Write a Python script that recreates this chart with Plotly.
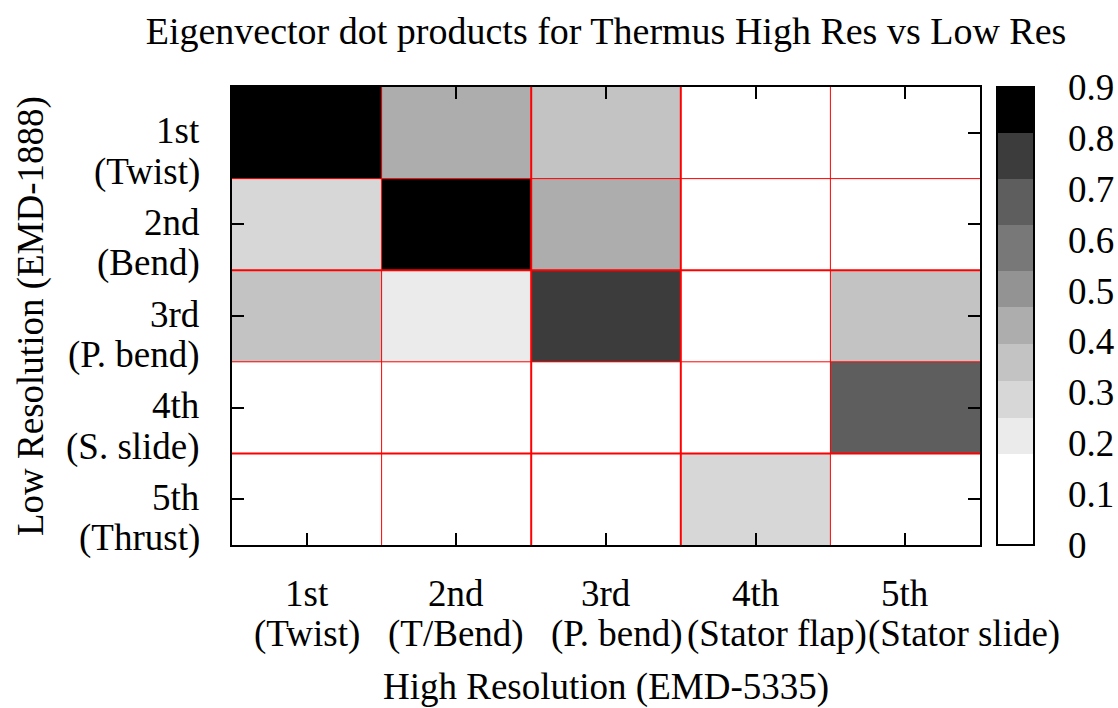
import plotly.graph_objects as go

# Mode labels (ordinal + description) for each resolution
LOW_RES_ORDINALS = ["1st", "2nd", "3rd", "4th", "5th"]
LOW_RES_NAMES = ["(Twist)", "(Bend)", "(P. bend)", "(S. slide)", "(Thrust)"]
HIGH_RES_ORDINALS = ["1st", "2nd", "3rd", "4th", "5th"]
HIGH_RES_NAMES = ["(Twist)", "(T/Bend)", "(P. bend)", "(Stator flap)", "(Stator slide)"]

# |dot product| between low-res (rows) and high-res (columns) eigenvectors
DOT_ROW_1 = [0.86, 0.43, 0.36, 0.05, 0.04]
DOT_ROW_2 = [0.29, 0.88, 0.43, 0.04, 0.06]
DOT_ROW_3 = [0.36, 0.21, 0.76, 0.08, 0.35]
DOT_ROW_4 = [0.02, 0.07, 0.10, 0.03, 0.67]
DOT_ROW_5 = [0.05, 0.03, 0.09, 0.28, 0.11]

# Stepped grey palette: band edges and colours
CB_MAX = 0.9
BAND_EDGES = [0.0, 0.178, 0.25, 0.322, 0.394, 0.467, 0.539, 0.629, 0.719, 0.809, 0.9]
BAND_GREYS = ["#ffffff", "#ebebeb", "#d7d7d7", "#c3c3c3", "#adadad",
              "#939393", "#787878", "#5e5e5e", "#3c3c3c", "#000000"]
CB_TICKS = [0.0, 0.1, 0.2, 0.3, 0.4, 0.5, 0.6, 0.7, 0.8, 0.9]
CB_TICKTEXT = ["0", "0.1", "0.2", "0.3", "0.4", "0.5", "0.6", "0.7", "0.8", "0.9"]

z = [DOT_ROW_1, DOT_ROW_2, DOT_ROW_3, DOT_ROW_4, DOT_ROW_5]
n_cols = len(HIGH_RES_ORDINALS)
n_rows = len(LOW_RES_ORDINALS)

colorscale = []
for i, grey in enumerate(BAND_GREYS):
    colorscale.append([BAND_EDGES[i] / CB_MAX, grey])
    colorscale.append([BAND_EDGES[i + 1] / CB_MAX, grey])

W, H = 1118, 708
L, R, T, B = 232, 138, 87, 163
plot_w = W - L - R
FONT = "Liberation Serif"
FS = 37

# horizontal nudge of the second line of each column label
NAME_XSHIFT = [0, 0, 11, 21, 59]

cb_left_px = 997
cb_thick = 37

fig = go.Figure(
    go.Heatmap(
        z=z,
        x=list(range(n_cols)),
        y=list(range(n_rows)),
        zmin=0, zmax=CB_MAX,
        colorscale=colorscale,
        showscale=True,
        colorbar=dict(
            x=(cb_left_px - L) / plot_w, xanchor="left", xpad=0,
            y=0.5, yanchor="middle", len=1, lenmode="fraction", ypad=0,
            thickness=cb_thick, thicknessmode="pixels",
            outlinecolor="black", outlinewidth=2,
            tickmode="array", tickvals=CB_TICKS, ticktext=CB_TICKTEXT,
            ticks="outside", ticklen=26, tickcolor="rgba(0,0,0,0)",
            tickfont=dict(family=FONT, size=FS, color="black"),
        ),
        hoverongaps=False,
    )
)

axis_common = dict(
    tickmode="array",
    showticklabels=False,
    ticks="inside", ticklen=12, tickwidth=1.5, tickcolor="black",
    showline=True, linecolor="black", linewidth=2, mirror="ticks",
    showgrid=False, zeroline=False,
)
fig.update_xaxes(tickvals=list(range(n_cols)), range=[-0.5, n_cols - 0.5], **axis_common)
fig.update_yaxes(tickvals=list(range(n_rows)), range=[n_rows - 0.5, -0.5], **axis_common)

shapes = []
# red separators between cells
v_widths = [1, 2, 2, 1]
h_widths = [1, 2, 1, 2]
for k in range(n_cols - 1):
    shapes.append(dict(type="line", xref="x", yref="y", layer="above",
                       x0=k + 0.5, x1=k + 0.5, y0=-0.5, y1=n_rows - 0.5,
                       line=dict(color="#ff0000", width=v_widths[k])))
for k in range(n_rows - 1):
    shapes.append(dict(type="line", xref="x", yref="y", layer="above",
                       x0=-0.5, x1=n_cols - 0.5, y0=k + 0.5, y1=k + 0.5,
                       line=dict(color="#ff0000", width=h_widths[k])))
# tick marks on both inner edges of the colour bar
cb_x0 = (cb_left_px - L) / plot_w
cb_x1 = (cb_left_px + cb_thick - L) / plot_w
tick_w = 10 / plot_w
for v in CB_TICKS[1:-1]:
    yv = v / CB_MAX
    shapes.append(dict(type="line", xref="paper", yref="paper", layer="above",
                       x0=cb_x0, x1=cb_x0 + tick_w, y0=yv, y1=yv,
                       line=dict(color="black", width=1.5)))
    shapes.append(dict(type="line", xref="paper", yref="paper", layer="above",
                       x0=cb_x1 - tick_w, x1=cb_x1, y0=yv, y1=yv,
                       line=dict(color="black", width=1.5)))

font = dict(family=FONT, size=FS, color="black")
lbl = dict(showarrow=False, font=font, borderpad=0)
annotations = []
for i in range(n_cols):
    annotations.append(dict(text=HIGH_RES_ORDINALS[i], x=i, xref="x", y=0, yref="paper",
                            xanchor="center", yanchor="middle", yshift=-48, **lbl))
    annotations.append(dict(text=HIGH_RES_NAMES[i], x=i, xref="x", y=0, yref="paper",
                            xanchor="center", yanchor="middle", yshift=-89,
                            xshift=NAME_XSHIFT[i], **lbl))
for j in range(n_rows):
    annotations.append(dict(text=LOW_RES_ORDINALS[j], x=0, xref="paper", y=j, yref="y",
                            xanchor="right", yanchor="middle", xshift=-31, yshift=2,
                            **lbl))
    annotations.append(dict(text=LOW_RES_NAMES[j], x=0, xref="paper", y=j, yref="y",
                            xanchor="right", yanchor="middle", xshift=-31, yshift=-39,
                            **lbl))
annotations.append(dict(text="High Resolution (EMD-5335)", x=0.5, xref="paper",
                        y=0, yref="paper", xanchor="center", yanchor="middle",
                        yshift=-142, **lbl))
annotations.append(dict(text="Low Resolution (EMD-1888)", x=0, xref="paper",
                        y=0.5, yref="paper", xanchor="center", yanchor="middle",
                        xshift=-201, textangle=-90, **lbl))

fig.update_layout(
    width=W, height=H,
    margin=dict(l=L, r=R, t=T, b=B, autoexpand=False),
    paper_bgcolor="white", plot_bgcolor="white",
    title=dict(text="Eigenvector dot products for Thermus High Res vs Low Res",
               x=(L + plot_w / 2) / W, xanchor="center",
               y=1 - 31 / H, yanchor="middle", yref="container",
               font=dict(family=FONT, size=38, color="black")),
    shapes=shapes,
    annotations=annotations,
)

fig.write_html("out.html")
